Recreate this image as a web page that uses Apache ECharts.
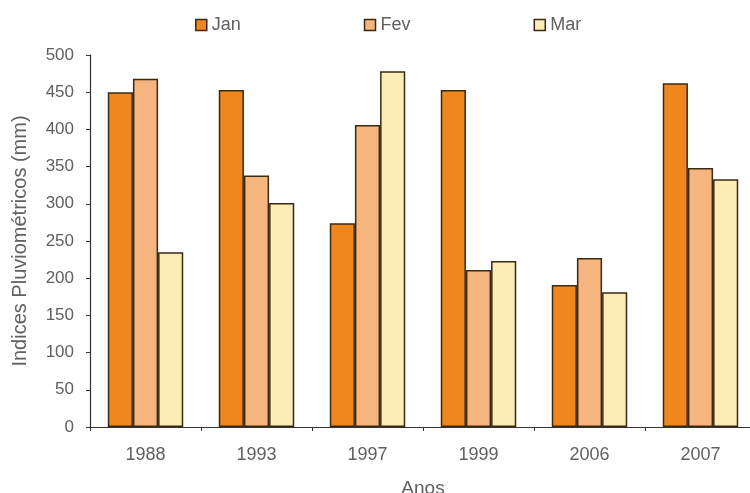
<!DOCTYPE html>
<html><head><meta charset="utf-8">
<script src="https://cdn.jsdelivr.net/npm/echarts@6/dist/echarts.min.js"></script>
<style>html,body{margin:0;padding:0;background:#fff}#c{width:750px;height:493px}</style>
</head><body><div id="c"></div>
<script>
const categories = ['1988','1993','1997','1999','2006','2007'];
const jan = [450, 453, 274, 453, 191, 462];
const fev = [468, 338, 406, 211, 227, 348];
const mar = [235, 301, 478, 223, 181, 333];
const seriesNames = ['Jan','Fev','Mar'];
const yTicks = [0, 50, 100, 150, 200, 250, 300, 350, 400, 450, 500];

const colors = ['#F0861E', '#F6B47E', '#FCEDB6'];
const border = '#3b2a12';
const font = 'Liberation Sans, Arial, sans-serif';
const txt = '#606060';
const chart = echarts.init(document.getElementById('c'));
const vals = [jan, fev, mar];
chart.setOption({
  animation: false,
  backgroundColor: '#fff',
  legend: {
    top: 11, left: 190, itemGap: 123, itemWidth: 11, itemHeight: 11,
    icon: 'rect',
    textStyle: {color: txt, fontFamily: font, fontSize: 18},
    data: seriesNames.map((n, i) => ({name: n, itemStyle: {borderColor: border, borderWidth: 1.5}}))
  },
  grid: {left: 90, top: 55, width: 666, height: 372, containLabel: false, outerBoundsMode: 'none'},
  xAxis: {
    type: 'category', data: categories,
    name: 'Anos', nameLocation: 'middle', nameGap: 52,
    nameTextStyle: {color: txt, fontFamily: font, fontSize: 19},
    axisLine: {lineStyle: {color: '#333', width: 1.2}},
    axisTick: {show: true, length: 4, lineStyle: {color: '#333'}},
    axisLabel: {color: txt, fontFamily: font, fontSize: 18, margin: 19}
  },
  yAxis: {
    type: 'value', min: 0, max: 500, interval: 50,
    name: 'Indices Pluviométricos (mm)', nameLocation: 'middle', nameGap: 60,
    nameTextStyle: {color: txt, fontFamily: font, fontSize: 20},
    axisLine: {show: true, lineStyle: {color: '#333', width: 1.2}},
    axisTick: {show: true, length: 4, lineStyle: {color: '#333'}},
    axisLabel: {color: txt, fontFamily: font, fontSize: 17, margin: 16,
      formatter: v => yTicks.includes(v) ? String(v) : ''},
    splitLine: {show: false}
  },
  series: seriesNames.map((n, i) => ({
    name: n, type: 'bar', data: vals[i],
    barGap: '0%', barCategoryGap: '32%',
    itemStyle: {color: colors[i], borderColor: border, borderWidth: 1.5}
  }))
});
</script></body></html>
